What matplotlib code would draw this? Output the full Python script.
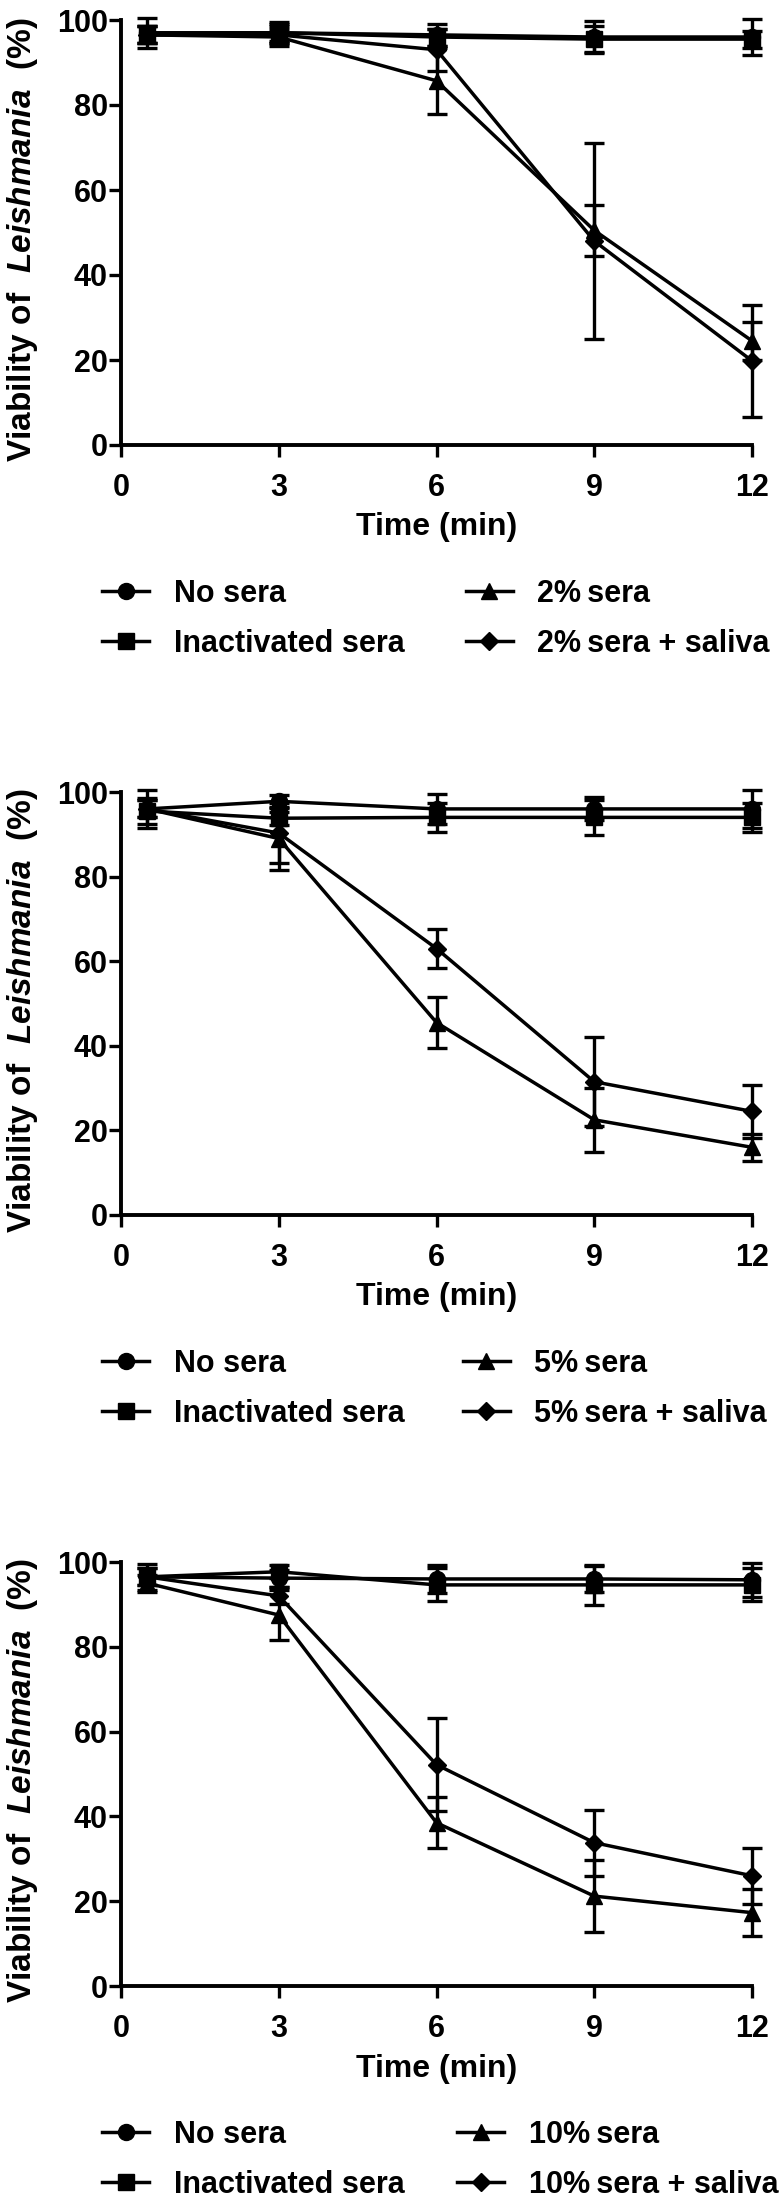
import matplotlib
matplotlib.use("Agg")
import matplotlib.pyplot as plt

plt.rcParams['font.family'] = ['Liberation Sans', 'DejaVu Sans']
plt.rcParams['font.weight'] = 'bold'
plt.rcParams['mathtext.fontset'] = 'custom'
plt.rcParams['mathtext.rm'] = 'Liberation Sans'
plt.rcParams['mathtext.bf'] = 'Liberation Sans:bold'
plt.rcParams['mathtext.it'] = 'Liberation Sans:italic'
plt.rcParams['mathtext.bfit'] = 'Liberation Sans:italic:bold'

# ---------------- data ----------------
time_min = [0.5, 3, 6, 9, 12]
x_ticks = [0, 3, 6, 9, 12]
y_ticks = [0, 20, 40, 60, 80, 100]
series_names = ["No sera", "Inactivated sera", "{p}\u2009sera", "{p}\u2009sera + saliva"]
panel_pcts = ["2%", "5%", "10%"]

# Panel 1 (2% sera)
p1_no_sera = [97, 97, 96.5, 96, 96]
p1_no_sera_err = [3.5, 2.5, 2.5, 3.8, 4.2]
p1_inact = [96.5, 97, 96, 95.5, 95.5]
p1_inact_err = [2, 2, 2, 3, 2]
p1_sera = [96.5, 96, 85.7, 50.5, 24.5]
p1_sera_err = [2, 2, 7.7, 6, 4.5]
p1_saliva = [96.5, 96.5, 93, 48, 19.8]
p1_saliva_err = [2, 2, 5, 23, 13.2]

# Panel 2 (5% sera)
p2_no_sera = [96, 97.8, 96, 96, 96]
p2_no_sera_err = [4.5, 1.5, 3.5, 2.7, 4.5]
p2_inact = [95.5, 93.8, 94, 94, 94]
p2_inact_err = [3, 1.5, 3.5, 4.2, 3.5]
p2_sera = [96, 89, 45.5, 22.5, 16]
p2_sera_err = [2, 7.4, 6, 7.5, 3.2]
p2_saliva = [96, 90.3, 63, 31.5, 24.5]
p2_saliva_err = [2, 7, 4.6, 10.5, 6.3]

# Panel 3 (10% sera)
p3_no_sera = [96.5, 96.2, 96, 96, 95.8]
p3_no_sera_err = [3, 2, 3.3, 3, 4]
p3_inact = [96.5, 97.7, 94.6, 94.6, 94.6]
p3_inact_err = [2, 1.5, 3.9, 4.7, 3.9]
p3_sera = [95, 87.5, 38.5, 21.2, 17.3]
p3_sera_err = [2, 6, 6, 8.5, 5.5]
p3_saliva = [96.5, 92, 52.2, 33.8, 26]
p3_saliva_err = [2, 2, 11, 7.8, 6.6]

panels = [
    ([p1_no_sera, p1_inact, p1_sera, p1_saliva],
     [p1_no_sera_err, p1_inact_err, p1_sera_err, p1_saliva_err]),
    ([p2_no_sera, p2_inact, p2_sera, p2_saliva],
     [p2_no_sera_err, p2_inact_err, p2_sera_err, p2_saliva_err]),
    ([p3_no_sera, p3_inact, p3_sera, p3_saliva],
     [p3_no_sera_err, p3_inact_err, p3_sera_err, p3_saliva_err]),
]

# ---------------- style ----------------
W, H = 780, 2202
markers = ['o', 's', '^', 'D']
msizes = [11.5, 11, 12, 9]
axes_px = [(20, 445), (792, 1215), (1562, 1986)]  # (top, bottom) in pixels
col_spacing = [2.0, 1.9, 1.72]
left_px, right_px = 121, 752

fig = plt.figure(figsize=(W / 100, H / 100), dpi=100)

for (vals, errs), pct, (top, bot), cs in zip(panels, panel_pcts, axes_px, col_spacing):
    ax = fig.add_axes([left_px / W, 1 - bot / H, (right_px - left_px) / W, (bot - top) / H])
    handles = []
    for i, (v, e) in enumerate(zip(vals, errs)):
        ax.errorbar(time_min, v, yerr=e, fmt='none', ecolor='black',
                    elinewidth=2.4, capsize=7, capthick=2.4, clip_on=False, zorder=3)
        ln, = ax.plot(time_min, v, color='black', lw=2.5, marker=markers[i],
                      ms=msizes[i], mfc='black', mec='black', clip_on=False, zorder=4,
                      label=series_names[i].format(p=pct))
        handles.append(ln)
    ax.set_xlim(0, 12)
    ax.set_ylim(0, 100)
    ax.set_xticks(x_ticks)
    ax.set_yticks(y_ticks)
    for s in ['top', 'right']:
        ax.spines[s].set_visible(False)
    for s in ['left', 'bottom']:
        ax.spines[s].set_linewidth(2.8)
    ax.tick_params(axis='both', length=8.5, width=2.4, labelsize=22, direction='out')
    ax.tick_params(axis='y', pad=1)
    ax.tick_params(axis='x', pad=11.5)
    for lab in ax.get_xticklabels() + ax.get_yticklabels():
        lab.set_fontweight('bold')
    ax.set_xlabel("Time (min)", fontsize=23, fontweight='bold', labelpad=7)
    ax.set_ylabel(r"$\mathbf{Viability\ of\ \ }\mathbfit{Leishmania}\mathbf{\ \ (\%)}$",
                  fontsize=24)
    ax.yaxis.set_label_coords(-0.128, 0.484)
    leg = ax.legend(handles=handles, ncol=2, loc='upper left', frameon=False,
                    bbox_to_anchor=(102 / W, 1 - (bot + 134) / H),
                    bbox_transform=fig.transFigure,
                    prop={'family': 'Liberation Sans', 'weight': 'bold', 'size': 22},
                    handlelength=1.55, handletextpad=0.8, columnspacing=cs,
                    labelspacing=0.66, borderpad=0, borderaxespad=0)

fig.savefig("out.png", dpi=100)
